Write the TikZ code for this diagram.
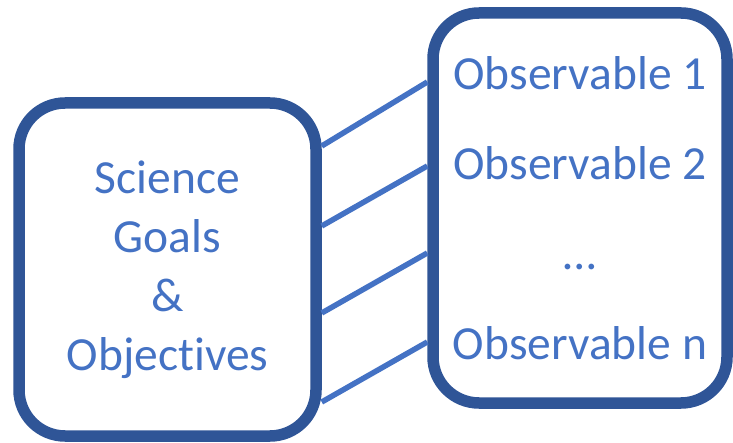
\documentclass[tikz,border=0pt]{standalone}
\usepackage{fontspec}
\setmainfont{Carlito}[Ligatures=NoCommon]
\definecolor{boxblue}{HTML}{2F5597}
\definecolor{textblue}{HTML}{4472C4}
\tikzset{
roundbox/.style={
	draw=boxblue, line width=11.5pt, rounded corners=46pt,
	align=center, text=textblue},
link/.style={draw=textblue, line width=5.5pt}
}

\begin{document}
\begin{tikzpicture}[x=1pt, y=-1pt]
	\useasboundingbox (0,0) rectangle (733,443);
	\node[roundbox, minimum width=297pt, minimum height=333pt,
		font=\fontsize{47.5}{59}\selectfont] (goals) at (167.5,269.5)
		{Science\\Goals\\\&\\Objectives};
	\node[roundbox, minimum width=294pt, minimum height=390pt,
		font=\fontsize{47.5}{90}\selectfont] (obs) at (580,208)
		{Observable 1\\Observable 2\\…\\Observable n};
	\foreach \l/\r in {123.5/126, 43.5/42, -43.5/-45, -132.5/-134}
		\draw[link] ([yshift=\l pt]goals.east) -- ([yshift=\r pt]obs.west);
\end{tikzpicture}
\end{document}
